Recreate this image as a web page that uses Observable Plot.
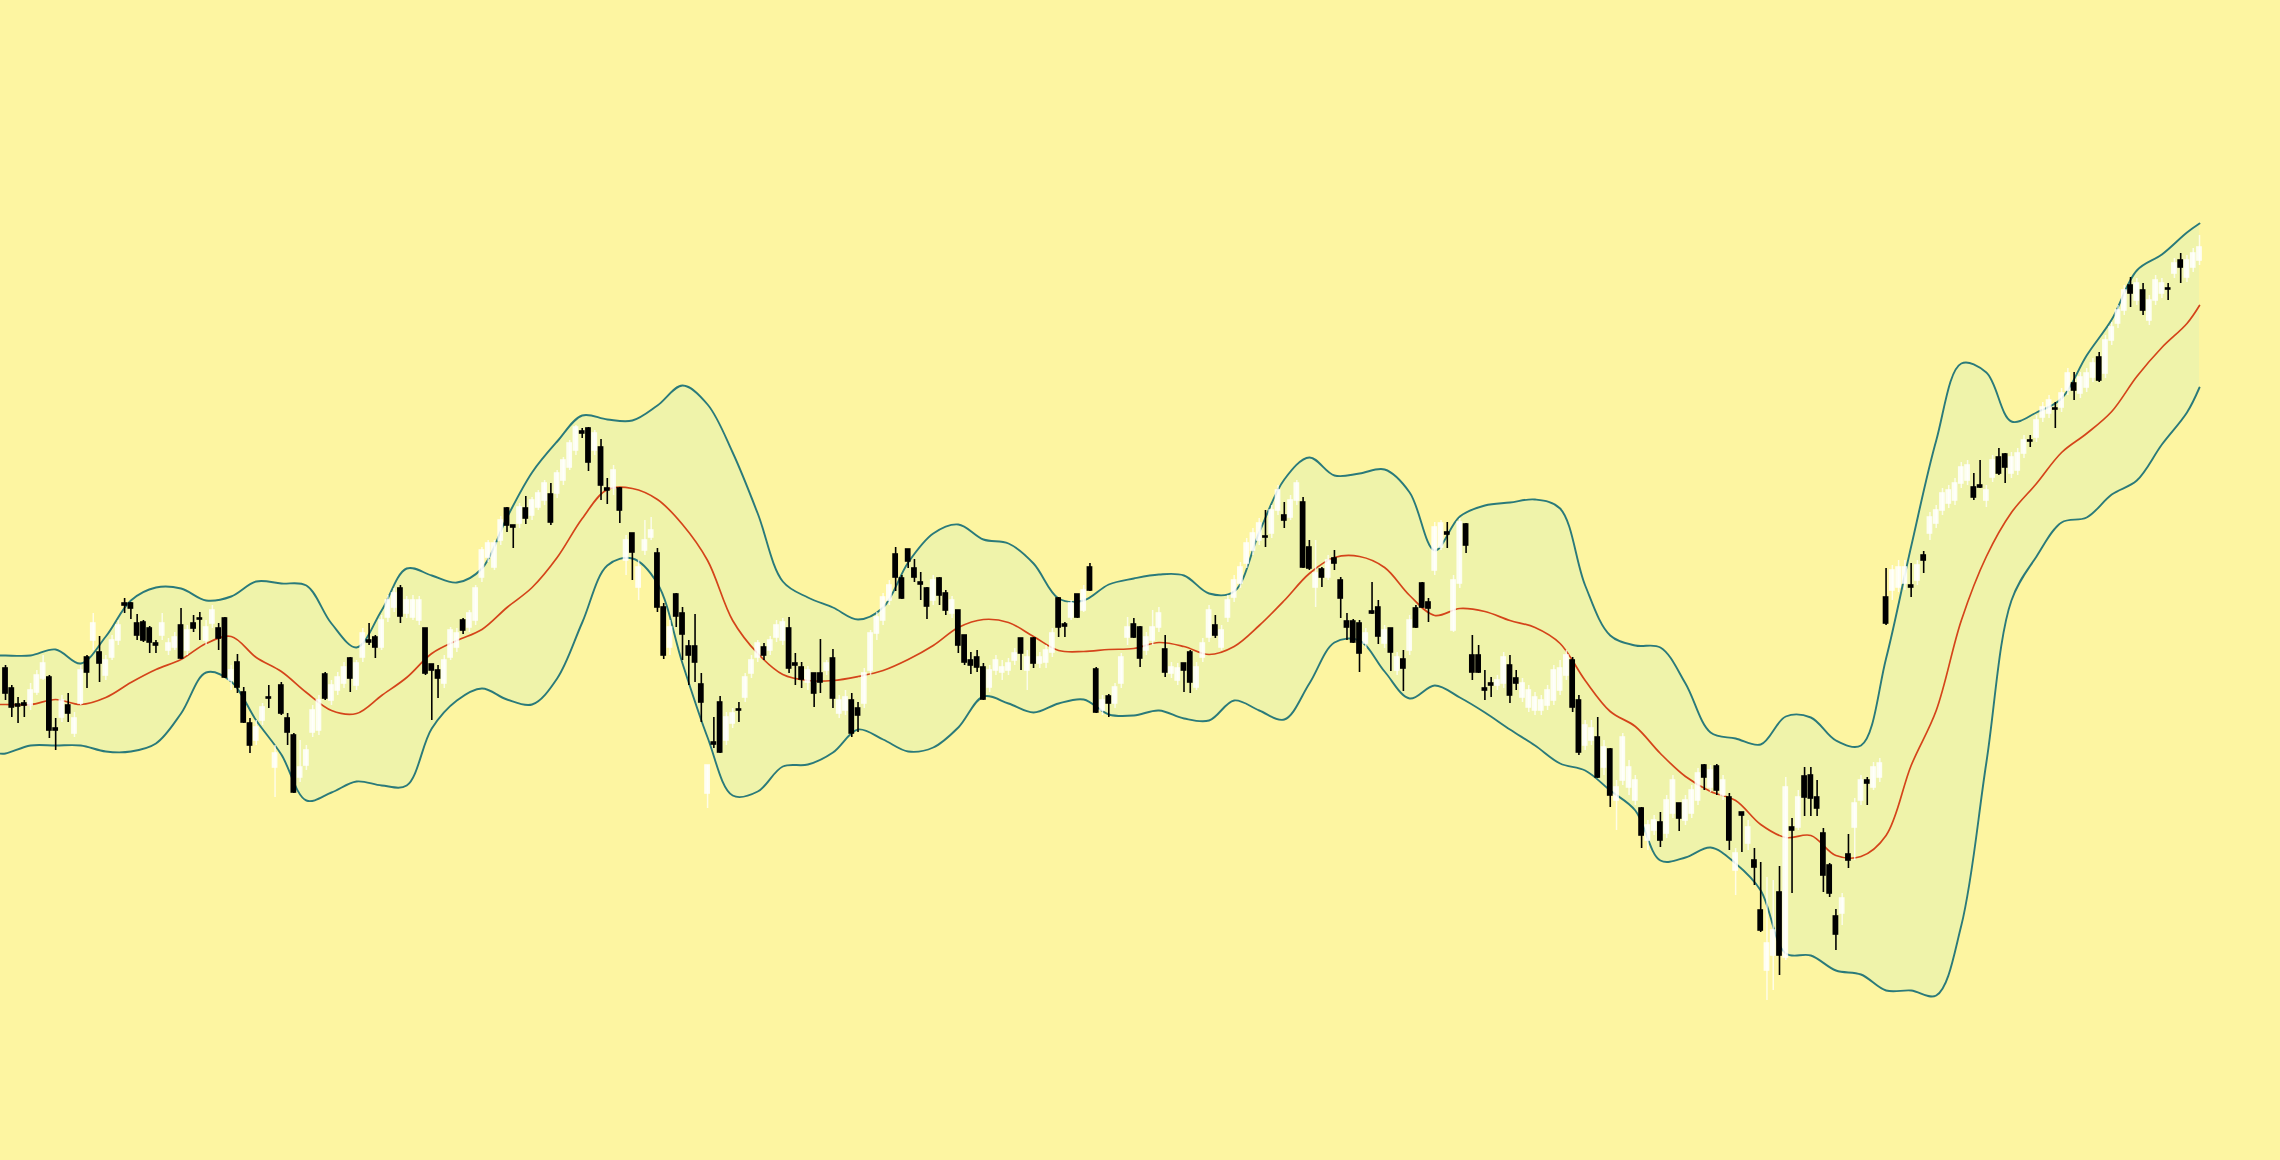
<!DOCTYPE html>
<html>
<head>
<meta charset="utf-8">
<script src="https://cdn.jsdelivr.net/npm/d3@7"></script>
<script src="https://cdn.jsdelivr.net/npm/@observablehq/plot@0.6"></script>
<style>
  html, body { margin: 0; padding: 0; background: #fdf5a1; overflow: hidden; }
  #chart svg { display: block; }
</style>
</head>
<body>
<div id="chart"></div>
<script>
// Daily OHLC prices (trading day index 0..350)
const open = [
  432,412,396,397,395,408,422,423,372,383,
  395,367,397,443,460,448,425,443,460,497,
  497,477,478,472,457,465,450,453,475,450,
  477,482,460,477,472,482,420,438,408,377,
  360,380,403,333,415,382,365,323,335,368,
  370,426,400,410,417,442,415,443,460,463,
  453,483,493,512,487,483,480,472,436,430,
  417,443,453,480,473,480,523,543,533,560,
  592,575,577,592,585,593,600,606,607,620,
  633,650,669,672,650,653,612,612,612,540,
  567,513,550,563,547,493,453,506,487,454,
  454,416,307,358,398,360,377,391,403,427,
  443,453,450,463,460,472,437,433,418,427,
  427,430,442,387,390,400,392,397,430,467,
  480,500,546,522,551,532,518,512,500,522,
  507,487,490,465,440,443,433,413,430,428,
  430,440,462,430,462,437,438,448,502,476,
  483,506,490,533,431,390,404,397,417,463,
  476,473,450,460,473,451,427,420,437,448,
  413,443,463,475,453,483,503,517,537,550,
  560,564,567,590,585,583,600,598,553,513,
  531,523,542,520,479,479,477,457,489,493,
  457,472,430,441,450,492,517,498,530,553,
  568,470,517,576,445,445,412,417,415,417,
  435,422,403,393,390,390,395,400,410,425,
  440,400,355,360,363,333,351,300,320,313,
  300,292,260,270,278,267,287,297,280,287,
  300,335,313,334,305,303,230,288,257,240,
  190,130,145,208,143,273,273,324,325,303,
  267,235,184,187,246,273,300,320,313,323,
  503,510,513,517,515,520,545,567,577,590,
  597,600,617,620,613,615,600,623,643,646,
  627,630,647,660,663,683,687,692,693,710,
  717,707,713,723,743,727,760,777,790,815,
  800,810,780,800,807,812,827,840,823,833,
  840
];
const high = [
  435,415,403,400,417,430,445,425,382,405,
  407,388,435,445,487,464,445,465,480,502,
  498,486,480,474,460,487,462,468,492,475,
  485,488,480,495,477,483,435,446,413,382,
  380,397,415,355,418,387,367,360,355,395,
  405,428,420,428,438,443,440,472,477,465,
  485,505,512,515,504,505,504,472,436,435,
  445,473,472,482,490,515,553,560,560,584,
  593,575,597,604,603,610,620,617,630,643,
  660,675,672,673,670,661,622,635,613,565,
  567,540,580,583,552,497,480,507,493,460,
  486,427,335,383,404,388,392,398,427,445,
  460,457,464,480,482,483,447,438,434,427,
  461,440,451,405,410,407,398,432,470,488,
  507,520,553,525,551,541,528,513,525,523,
  510,504,490,465,448,450,437,435,445,440,
  442,452,462,450,463,448,455,472,503,478,
  500,506,515,537,433,405,406,417,447,483,
  482,474,468,490,493,465,438,437,437,450,
  438,462,495,485,475,505,525,538,562,572,
  582,590,595,615,598,605,620,603,560,560,
  533,545,550,523,487,481,480,472,518,500,
  475,472,448,450,485,495,518,502,578,580,
  578,525,582,577,465,455,430,423,425,448,
  445,430,422,415,408,405,415,435,440,450,
  443,405,380,380,383,360,352,320,367,340,
  325,293,280,285,288,305,325,297,305,315,
  332,336,335,336,325,307,252,288,280,252,
  238,223,220,234,323,282,310,333,333,320,
  272,237,191,207,266,302,325,323,338,342,
  532,535,540,540,537,540,549,588,595,612,
  615,622,638,640,627,640,615,645,652,647,
  648,652,665,665,685,698,705,698,712,732,
  728,728,732,742,748,765,778,795,815,823,
  822,817,805,825,822,817,842,847,845,852,
  865
];
const low = [
  400,383,377,383,390,405,420,362,350,378,
  378,363,395,412,450,418,420,440,455,487,
  481,460,458,447,447,460,445,450,441,445,
  468,460,455,472,450,422,410,407,377,347,
  355,375,392,303,385,355,307,318,330,363,
  365,400,395,405,412,408,410,438,455,442,
  450,478,488,477,482,480,475,425,380,402,
  412,440,448,466,468,475,518,538,530,555,
  568,552,572,576,580,590,595,575,602,615,
  630,645,662,629,645,600,596,605,577,525,
  520,500,545,560,488,441,445,473,440,415,
  418,378,292,352,347,355,372,378,398,422,
  438,440,445,458,455,427,415,412,410,393,
  407,425,392,382,385,363,368,392,425,460,
  475,495,509,501,532,518,500,481,495,495,
  485,482,447,435,426,428,400,408,425,420,
  425,435,430,410,432,432,432,443,463,463,
  480,482,488,509,387,385,383,392,412,455,
  462,433,445,455,468,423,422,415,408,407,
  410,438,458,462,450,478,498,512,532,545,
  555,553,562,585,572,580,595,532,530,493,
  513,520,530,482,460,457,428,452,486,456,
  452,429,425,409,445,472,492,478,525,550,
  552,468,512,547,420,427,400,403,410,412,
  397,410,398,388,385,385,390,395,405,420,
  388,345,350,355,322,325,293,270,315,305,
  295,252,250,265,253,262,282,269,275,282,
  295,310,308,305,300,250,205,248,250,215,
  168,100,110,125,140,207,270,284,284,284,
  208,203,150,175,232,240,295,295,310,318,
  475,500,508,510,503,515,527,560,572,585,
  592,595,612,615,600,612,593,618,625,617,
  622,625,642,653,658,678,682,672,688,705,
  700,702,708,718,718,722,755,772,785,793,
  795,785,775,795,802,800,822,817,818,828,
  835
];
const close = [
  407,393,394,395,410,425,437,370,370,400,
  387,382,430,428,477,437,440,460,475,495,
  492,465,460,458,455,477,457,463,442,470,
  472,481,473,490,462,423,430,413,378,355,
  373,393,402,347,387,368,308,333,350,390,
  400,402,415,423,433,422,437,467,458,453,
  480,500,507,484,500,500,500,427,430,422,
  440,470,467,470,487,512,550,557,557,580,
  575,573,593,582,600,607,617,578,627,640,
  657,673,667,638,667,615,610,630,590,560,
  548,533,560,570,493,445,473,484,466,445,
  438,398,335,356,348,383,387,390,423,440,
  457,445,460,475,478,432,435,421,430,407,
  418,437,402,400,403,367,385,427,467,483,
  503,515,523,502,539,523,516,494,520,505,
  490,500,455,438,435,433,401,430,440,433,
  437,447,447,443,437,443,450,467,473,474,
  497,483,510,510,388,400,397,413,443,473,
  463,442,463,473,487,428,433,432,430,418,
  433,457,490,465,470,500,520,533,557,567,
  577,563,590,610,580,600,617,533,532,527,
  523,540,537,502,473,458,447,467,487,464,
  470,448,443,432,480,473,493,492,573,577,
  566,520,578,555,428,428,410,415,420,443,
  405,417,417,410,403,400,410,430,432,445,
  393,348,375,372,323,353,305,313,363,333,
  320,265,275,280,260,300,320,282,300,310,
  327,323,330,310,320,260,247,285,273,233,
  170,157,170,145,313,270,303,303,302,292,
  225,207,166,202,240,297,320,317,333,337,
  477,530,533,533,513,535,540,583,590,607,
  610,617,633,635,603,613,610,640,627,633,
  643,647,660,659,680,693,700,691,707,727,
  710,723,727,737,720,760,773,790,810,807,
  817,790,800,820,817,811,837,833,840,847,
  853
];

// Bollinger bands, every 4th trading day
const bandDay = [
  -1,0,4,8,12,16,20,24,28,32,36,
  40,44,48,52,56,60,64,68,72,76,
  80,84,88,92,96,100,104,108,112,116,
  120,124,128,132,136,140,144,148,152,156,
  160,164,168,172,176,180,184,188,192,196,
  200,204,208,212,216,220,224,228,232,236,
  240,244,248,252,256,260,264,268,272,276,
  280,284,288,292,296,300,304,308,312,316,
  320,324,328,332,336,340,344,348,350
];
const upperBand = [
  445,445,445,451,437,464,500,513,512,500,504,
  519,517,515,477,453,490,532,525,518,532,
  583,628,659,685,681,680,695,715,696,648,
  587,519,503,493,481,493,538,567,576,561,
  557,537,502,500,516,522,526,525,507,509,
  568,621,643,625,627,631,608,550,584,595,
  598,601,592,515,465,455,453,417,368,362,
  356,384,383,360,355,442,554,660,737,728,
  679,688,702,745,781,830,846,868,877
];
const middleBand = [
  396,396,396,401,396,403,418,431,441,457,464,
  443,429,408,390,387,405,423,447,460,471,
  493,513,543,582,611,612,601,576,540,480,
  447,426,420,420,424,430,441,455,473,481,
  478,464,450,449,451,452,458,454,446,454,
  475,500,527,543,544,533,505,485,492,489,
  480,473,457,420,389,374,347,324,309,300,
  276,263,265,245,244,265,335,390,480,544,
  588,617,648,667,689,724,753,777,795
];
const lowerBand = [
  347,347,355,355,355,349,349,357,387,428,419,
  380,346,300,308,319,315,315,372,400,412,
  401,396,422,478,535,542,517,437,363,305,
  309,334,336,348,371,361,349,353,373,404,
  397,388,397,401,386,385,390,382,380,400,
  390,381,417,458,460,429,402,415,403,388,
  371,355,337,330,310,290,240,243,253,237,
  210,147,145,130,126,110,110,105,175,338,
  500,544,578,583,606,620,656,688,713
];

const BG = "#fdf5a1";
const BAND_FILL = "#eff3aa";
const BAND_LINE = "#2a7a7a";
const MID_LINE = "#d4441a";

const candles = open.map((o, i) => ({day: i, open: o, high: high[i], low: low[i], close: close[i]}));
const up = candles.filter(d => d.close >= d.open);
const down = candles.filter(d => d.close < d.open);
const bands = bandDay.map((d, k) => ({day: d, upper: upperBand[k], middle: middleBand[k], lower: lowerBand[k]}));

const chart = Plot.plot({
  width: 2280,
  height: 1160,
  margin: 0,
  style: {background: BG},
  x: {type: "linear", domain: [-0.8, 350], range: [0, 2199], axis: null},
  y: {domain: [-60, 1100], range: [1160, 0], axis: null},
  marks: [
    Plot.areaY(bands, {x: "day", y1: "lower", y2: "upper", fill: BAND_FILL, curve: "catmull-rom"}),
    Plot.line(bands, {x: "day", y: "upper", stroke: BAND_LINE, strokeWidth: 1.9, curve: "catmull-rom"}),
    Plot.line(bands, {x: "day", y: "lower", stroke: BAND_LINE, strokeWidth: 1.9, curve: "catmull-rom"}),
    Plot.line(bands, {x: "day", y: "middle", stroke: MID_LINE, strokeWidth: 1.7, curve: "catmull-rom"}),
    Plot.ruleX(up, {x: "day", y1: "low", y2: "high", stroke: "white", strokeOpacity: 0.75, strokeWidth: 1.5}),
    Plot.rect(up, {x1: d => d.day - 0.46, x2: d => d.day + 0.46, y1: "open", y2: "close",
      fill: "white", fillOpacity: 0.85, insetTop: -0.8, insetBottom: -0.8}),
    Plot.ruleX(down, {x: "day", y1: "low", y2: "high", stroke: "black", strokeWidth: 1.6}),
    Plot.rect(down, {x1: d => d.day - 0.46, x2: d => d.day + 0.46, y1: "open", y2: "close",
      fill: "black", insetTop: -0.8, insetBottom: -0.8})
  ]
});
document.getElementById("chart").appendChild(chart);
</script>
</body>
</html>
